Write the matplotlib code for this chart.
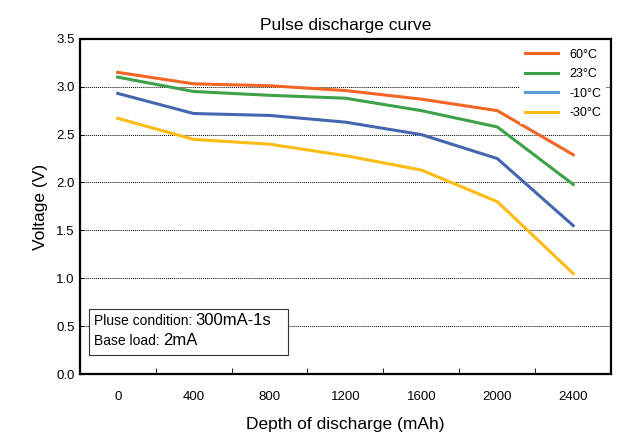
import numpy as np
import matplotlib.pyplot as plt
from matplotlib.lines import Line2D
from matplotlib.patches import Rectangle

plt.rcParams['font.family'] = ['Liberation Sans', 'DejaVu Sans']

dod = ['0', '400', '800', '1200', '1600', '2000', '2400']
v_60 = [3.15, 3.03, 3.01, 2.96, 2.87, 2.75, 2.29]
v_23 = [3.10, 2.95, 2.91, 2.88, 2.75, 2.58, 1.98]
v_m10 = [2.93, 2.72, 2.70, 2.63, 2.50, 2.25, 1.55]
v_m30 = [2.67, 2.45, 2.40, 2.28, 2.13, 1.80, 1.05]
labels = ['60°C', '23°C', '-10°C', '-30°C']
colors = ['#F26522', '#3DA147', '#4466B0', '#FDBB13']
legend_colors = ['#F26522', '#3DA147', '#5B9BD5', '#FDBB13']

fig = plt.figure(figsize=(6.23, 4.36), dpi=100)
ax = fig.add_axes([0.128, 0.142, 0.853, 0.769])

x = np.arange(len(dod))
for vals, c in zip([v_60, v_23, v_m10, v_m30], colors):
    ax.plot(x, vals, color=c, lw=2.2, zorder=3)

ax.set_xlim(-0.5, 6.5)
ax.set_ylim(0, 3.5)
ax.set_xticks(x)
ax.set_xticklabels(dod)
ax.set_xticks(x[:-1] + 0.5, minor=True)
ax.tick_params(axis='x', which='major', length=0, pad=12, labelsize=9.5)
ax.tick_params(axis='x', which='minor', direction='in', length=4)
ax.set_yticks(np.arange(0, 3.51, 0.5))
ax.set_yticklabels(['%.1f' % v for v in np.arange(0, 3.51, 0.5)])
ax.tick_params(axis='y', direction='in', length=3, labelsize=9.5)
for y in np.arange(0.5, 3.01, 0.5):
    ax.axhline(y, color='black', lw=0.7, ls=(0, (1, 1)), zorder=1)
for s in ax.spines.values():
    s.set_linewidth(1.6)

ax.set_title('Pulse discharge curve', fontsize=12.5, pad=6)
ax.set_xlabel('Depth of discharge (mAh)', fontsize=12.5, labelpad=10)
ax.set_ylabel('Voltage (V)', fontsize=12.5, labelpad=6)

handles = [Line2D([], [], color=c, lw=2.2) for c in legend_colors]
leg = ax.legend(handles, labels, loc='upper right', fontsize=9, frameon=True,
                edgecolor='none', framealpha=1, fancybox=False,
                handlelength=2.6, handletextpad=0.9, labelspacing=0.6,
                borderaxespad=0.4)
leg.set_zorder(5)

ax.add_patch(Rectangle((0.017, 0.057), 0.375, 0.137, transform=ax.transAxes,
                       facecolor='white', edgecolor='#333333', lw=0.8, zorder=4))
t1 = ax.text(0.026, 0.145, 'Pluse condition: ', transform=ax.transAxes,
             fontsize=10, va='baseline', zorder=5)
ax.annotate('300mA-1s', xy=(1, 0), xycoords=t1, fontsize=12, va='bottom',
            zorder=5)
t2 = ax.text(0.026, 0.088, 'Base load: ', transform=ax.transAxes,
             fontsize=10, va='baseline', zorder=5)
ax.annotate('2mA', xy=(1, 0), xycoords=t2, fontsize=12, va='bottom', zorder=5)

fig.savefig('out.png', dpi=100)
